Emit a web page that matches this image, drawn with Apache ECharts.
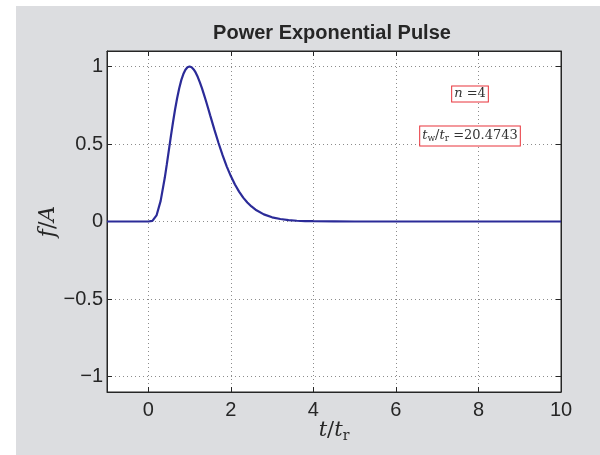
<!DOCTYPE html>
<html><head><meta charset="utf-8">
<script src="https://cdn.jsdelivr.net/npm/echarts@6/dist/echarts.min.js"></script>
<style>
html,body{margin:0;padding:0;background:#fff;}
#wrap{position:relative;width:600px;height:455px;overflow:hidden;}
#bg{position:absolute;left:16px;top:6px;width:584px;height:449px;background:#dcdde0;}
#chart{position:absolute;left:0;top:0;width:600px;height:455px;}
</style></head><body>
<div id="wrap"><div id="bg"></div><div id="chart"></div></div>
<script>
// time axis t/t_r
const tValues = [-1, 0,
  0.1, 0.2, 0.3, 0.4, 0.45, 0.5, 0.55, 0.6, 0.65, 0.7, 0.75, 0.8, 0.85, 0.9, 0.95, 1.0,
  1.05, 1.1, 1.15, 1.2, 1.25, 1.3, 1.35, 1.4, 1.45, 1.5, 1.6, 1.7, 1.8, 1.9, 2.0,
  2.1, 2.2, 2.3, 2.4, 2.5, 2.6, 2.8, 3.0, 3.2, 3.4, 3.6, 3.8, 4.0,
  4.5, 5, 6, 10];
// normalised pulse f/A
const fValues = [0, 0,
  0.004, 0.039, 0.133, 0.282, 0.370, 0.462, 0.554, 0.642, 0.724, 0.797, 0.860, 0.912, 0.951, 0.979, 0.995, 1.000,
  0.995, 0.981, 0.960, 0.932, 0.898, 0.860, 0.819, 0.776, 0.731, 0.685, 0.594, 0.508, 0.428, 0.356, 0.293,
  0.239, 0.193, 0.154, 0.123, 0.097, 0.076, 0.046, 0.027, 0.016, 0.009, 0.005, 0.003, 0.002,
  0.001, 0, 0, 0];
const xRange = [-1, 10];
const yRange = [-1.1, 1.1];
const titleText = 'Power Exponential Pulse';
const nText = '4';
const ratioText = '20.4743';

const lineData = tValues.map((t, i) => [t, fValues[i]]);
const minus = v => String(v).replace('-', '\u2212');

const ink = '#262626';
const labelFont = {fontFamily: 'Liberation Sans, Helvetica, Arial', fontSize: 20, color: ink};
const serif = 'DejaVu Serif, Liberation Serif, serif';
const gridLine = {show: true, lineStyle: {color: '#8c8c8c', type: [1, 3], width: 1}};
const tick = {show: true, inside: true, length: 5, lineStyle: {color: ink}};
const axLine = {show: true, onZero: false, lineStyle: {color: ink, width: 1}};

const chart = echarts.init(document.getElementById('chart'), null, {renderer: 'canvas'});
chart.setOption({
  animation: false,
  backgroundColor: 'transparent',
  title: {
    text: titleText, left: 327, top: 18, textAlign: 'center',
    textStyle: {fontFamily: 'Liberation Sans, Helvetica, Arial', fontSize: 20, fontWeight: 'bold', color: ink}
  },
  grid: {left: 107, right: 39, top: 51, bottom: 63, show: true, backgroundColor: '#fff', borderColor: ink, borderWidth: 1},
  xAxis: [{
    type: 'value', min: xRange[0], max: xRange[1], splitNumber: 5,
    axisLine: axLine, axisTick: tick, splitLine: gridLine,
    axisLabel: Object.assign({margin: 8, showMinLabel: false, formatter: minus}, labelFont),
    name: '{i|t}/{i|t}{s|r}', nameLocation: 'middle', nameGap: 27, nameMoveOverlap: false,
    nameTextStyle: {fontFamily: serif, fontSize: 21, color: ink,
      rich: {i: {fontFamily: serif, fontStyle: 'italic', fontSize: 21, color: ink},
             s: {fontFamily: serif, fontSize: 14, color: ink, padding: [10, 0, 0, 0]}}}
  }, {
    type: 'value', position: 'top', min: xRange[0], max: xRange[1], splitNumber: 5,
    axisLine: axLine, axisTick: tick, splitLine: {show: false}, axisLabel: {show: false}
  }],
  yAxis: [{
    type: 'value', min: yRange[0], max: yRange[1], splitNumber: 5,
    axisLine: axLine, axisTick: tick, splitLine: gridLine,
    axisLabel: Object.assign({margin: 4, showMinLabel: false, showMaxLabel: false, formatter: minus}, labelFont),
    name: '{i|f}/{i|A}', nameLocation: 'middle', nameGap: 48, nameMoveOverlap: false,
    nameTextStyle: {fontFamily: serif, fontSize: 22, color: ink,
      rich: {i: {fontFamily: serif, fontStyle: 'italic', fontSize: 22, color: ink}}}
  }, {
    type: 'value', position: 'right', min: yRange[0], max: yRange[1], splitNumber: 5,
    axisLine: axLine, axisTick: tick, splitLine: {show: false}, axisLabel: {show: false}
  }],
  series: [{
    type: 'line', data: lineData, showSymbol: false, symbol: 'none',
    lineStyle: {color: '#2b2b98', width: 2.2}, clip: true
  }],
  graphic: [{
    type: 'text', x: 470, y: 94,
    style: {
      text: '{i|n} =' + nText, align: 'center', verticalAlign: 'middle',
      fontFamily: serif, fontSize: 13, fill: '#333',
      rich: {i: {fontFamily: serif, fontStyle: 'italic', fontSize: 13, fill: '#333'}},
      backgroundColor: '#fff', borderColor: '#e8333a', borderWidth: 1, padding: [1, 2, 1, 2]
    }, z: 100
  }, {
    type: 'text', x: 470, y: 136,
    style: {
      text: '{i|t}{s|w}/{i|t}{s|r} =' + ratioText, align: 'center', verticalAlign: 'middle',
      fontFamily: serif, fontSize: 13, fill: '#333',
      rich: {i: {fontFamily: serif, fontStyle: 'italic', fontSize: 13, fill: '#333'},
             s: {fontFamily: serif, fontSize: 9, fill: '#333', padding: [6, 0, 0, 0]}},
      backgroundColor: '#fff', borderColor: '#e8333a', borderWidth: 1, padding: [2, 2, 2, 2]
    }, z: 100
  }]
});
</script>
</body></html>
